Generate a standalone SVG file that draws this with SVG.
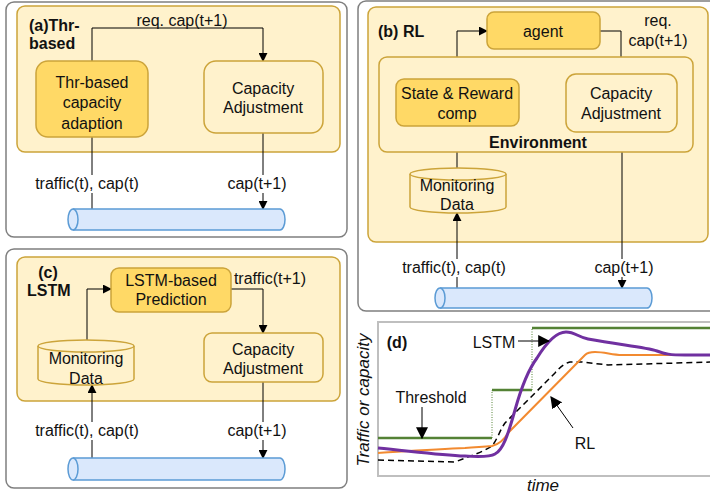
<svg xmlns="http://www.w3.org/2000/svg" width="710" height="493" viewBox="0 0 710 493">
<defs>
<marker id="ah" viewBox="0 0 10 10" refX="9" refY="5" markerWidth="9" markerHeight="9" markerUnits="userSpaceOnUse" orient="auto"><path d="M0,0 L10,5 L0,10 Z" fill="#000"/></marker>
<marker id="ah2" viewBox="0 0 10 10" refX="9" refY="5" markerWidth="12" markerHeight="12" markerUnits="userSpaceOnUse" orient="auto"><path d="M0,0 L10,5 L0,10 Z" fill="#000"/></marker>
<style>
text{font-family:"Liberation Sans",Arial,sans-serif;font-size:16px;fill:#111}
.c{text-anchor:middle}
.b{font-weight:bold}
.panel{fill:#fff;stroke:#7f7f7f;stroke-width:1.5}
.light{fill:#FFF2CC;stroke:#CCA43A;stroke-width:1.5}
.dark{fill:#FFD966;stroke:#CCA43A;stroke-width:1.5}
.pipe{fill:#DAE8FC;stroke:#5B9BD5;stroke-width:1.5}
.ln{fill:none;stroke:#000;stroke-width:1}
.arr{fill:none;stroke:#000;stroke-width:1;marker-end:url(#ah)}
.bg{fill:#fff}
</style>
</defs>

<!-- panels -->
<rect class="panel" x="6" y="2" width="341" height="235" rx="8"/>
<rect class="panel" x="358" y="1" width="362" height="310" rx="8"/>
<rect class="panel" x="6" y="249" width="341" height="239" rx="8"/>

<rect class="light" x="17" y="6" width="323" height="146" rx="8"/>
<rect class="light" x="368" y="7" width="340" height="235" rx="8"/>
<rect class="light" x="17" y="257" width="323" height="144" rx="8"/>

<!-- connectors -->
<g id="connectors">
  <!-- (a) -->
  <path class="arr" d="M92,61 V28 H263 V61"/>
  <path class="ln" d="M92,137 V209"/>
  <path class="arr" d="M263,133 V209"/>
  <!-- (b) -->
  <path class="arr" d="M457,79 V31 H487"/>
  <path class="arr" d="M600,31 H621 V74"/>
  <path class="arr" d="M457,168 V126"/>
  <path class="arr" d="M457,288 V213"/>
  <path class="arr" d="M622,132 V288"/>
  <!-- (c) -->
  <path class="arr" d="M87,340 V289 H111"/>
  <path class="arr" d="M231,289 H263 V333"/>
  <path class="arr" d="M92,458 V385"/>
  <path class="arr" d="M263,382 V458"/>
</g>

<!-- panel (a) -->
<g id="panel-a">
  <text class="b" x="29" y="31">(a)Thr-</text>
  <text class="b" x="29" y="49">based</text>
  <text class="c" x="182" y="26">req. cap(t+1)</text>
  <g id="thr-node">
    <rect class="dark" x="36" y="61" width="112" height="76" rx="12"/>
    <text class="c" x="92" y="88">Thr-based</text>
    <text class="c" x="92" y="108">capacity</text>
    <text class="c" x="92" y="129">adaption</text>
  </g>
  <g id="cap-a">
    <rect class="light" x="204" y="61" width="119" height="72" rx="12"/>
    <text class="c" x="263" y="94">Capacity</text>
    <text class="c" x="263" y="113">Adjustment</text>
  </g>
  <rect class="bg" x="34" y="175" width="106" height="18"/>
  <text class="c" x="87" y="189">traffic(t), cap(t)</text>
  <rect class="bg" x="227" y="175" width="60" height="18"/>
  <text class="c" x="257" y="189">cap(t+1)</text>
  <g id="pipe-a">
    <path class="pipe" d="M73,209 H280 A5,10.5 0 0 1 280,230 H73 A5,10.5 0 0 1 73,209 Z"/>
    <path class="pipe" d="M73,209 A5,10.5 0 0 1 73,230" fill="none"/>
  </g>
</g>

<!-- panel (b) -->
<g id="panel-b">
  <text class="b" x="378" y="37">(b) RL</text>
  <g id="agent">
    <rect class="dark" x="487" y="12" width="113" height="37" rx="7"/>
    <text class="c" x="543" y="37">agent</text>
  </g>
  <text class="c" x="658" y="26">req.</text>
  <text class="c" x="658" y="46">cap(t+1)</text>
  <g id="environment">
    <rect class="light" x="379" y="57" width="314" height="95" rx="8"/>
    <text class="c b" x="538" y="148">Environment</text>
  </g>
  <g id="state-reward">
    <rect class="dark" x="396" y="79" width="123" height="47" rx="8"/>
    <text class="c" x="457" y="99">State &amp; Reward</text>
    <text class="c" x="457" y="119">comp</text>
  </g>
  <g id="cap-b">
    <rect class="light" x="566" y="74" width="111" height="58" rx="10"/>
    <text class="c" x="621" y="99">Capacity</text>
    <text class="c" x="621" y="119">Adjustment</text>
  </g>
  <g id="monitor-b">
    <path class="light" d="M410,174 A48,6 0 0 1 506,174 V207 A48,6 0 0 1 410,207 Z"/>
    <path class="light" d="M410,174 A48,6 0 0 0 506,174" fill="none"/>
    <text class="c" x="457" y="191">Monitoring</text>
    <text class="c" x="457" y="210">Data</text>
  </g>
  <rect class="bg" x="402" y="259" width="106" height="18"/>
  <text class="c" x="454" y="273">traffic(t), cap(t)</text>
  <rect class="bg" x="594" y="259" width="60" height="18"/>
  <text class="c" x="624" y="273">cap(t+1)</text>
  <g id="pipe-b">
    <path class="pipe" d="M440,288 H647 A5,10 0 0 1 647,308 H440 A5,10 0 0 1 440,288 Z"/>
    <path class="pipe" d="M440,288 A5,10 0 0 1 440,308" fill="none"/>
  </g>
</g>

<!-- panel (c) -->
<g id="panel-c">
  <text class="c b" x="48" y="278">(c)</text>
  <text class="b" x="27" y="296">LSTM</text>
  <g id="lstm">
    <rect class="dark" x="111" y="268" width="120" height="44" rx="8"/>
    <text class="c" x="171" y="286">LSTM-based</text>
    <text class="c" x="171" y="305">Prediction</text>
  </g>
  <text class="c" x="270" y="284">traffic(t+1)</text>
  <g id="cap-c">
    <rect class="light" x="204" y="333" width="119" height="49" rx="8"/>
    <text class="c" x="263" y="355">Capacity</text>
    <text class="c" x="263" y="374">Adjustment</text>
  </g>
  <g id="monitor-c">
    <path class="light" d="M38,346 A48,6 0 0 1 134,346 V379 A48,6 0 0 1 38,379 Z"/>
    <path class="light" d="M38,346 A48,6 0 0 0 134,346" fill="none"/>
    <text class="c" x="86" y="364">Monitoring</text>
    <text class="c" x="86" y="384">Data</text>
  </g>
  <rect class="bg" x="34" y="422" width="106" height="18"/>
  <text class="c" x="87" y="436">traffic(t), cap(t)</text>
  <rect class="bg" x="227" y="422" width="60" height="18"/>
  <text class="c" x="257" y="436">cap(t+1)</text>
  <g id="pipe-c">
    <path class="pipe" d="M73,458 H280 A5,11 0 0 1 280,480 H73 A5,11 0 0 1 73,458 Z"/>
    <path class="pipe" d="M73,458 A5,11 0 0 1 73,480" fill="none"/>
  </g>
</g>

<!-- panel (d) -->
<g id="panel-d">
  <rect x="378" y="322" width="340" height="154" fill="#fff" stroke="#BFBFBF" stroke-width="2"/>
  <text class="b" x="397" y="348" text-anchor="middle">(d)</text>
  <text class="c" transform="translate(369,400) rotate(-90)" font-style="italic" style="font-size:17px">Traffic or capacity</text>
  <text class="c" x="543" y="491" font-style="italic" style="font-size:17px">time</text>
  <!-- threshold steps -->
  <path d="M378,438 H492 M492,390 H532 M532,328 H712" fill="none" stroke="#548235" stroke-width="2.5"/>
  <path d="M492,438 V390 M532,390 V328" fill="none" stroke="#548235" stroke-width="1" stroke-dasharray="1,1.5"/>
  <!-- dashed traffic -->
  <path d="M378,460 L455,462 C470,456 483,452 492,446 C497,440 500,430 505,423 L555,373 C560,367 565,363 570,362 L582,362 L608,365 L712,362" fill="none" stroke="#000" stroke-width="1.5" stroke-dasharray="6,4"/>
  <!-- orange RL -->
  <path d="M378,453 C410,451 440,449 465,448 C475,447 480,447 492,446 C500,444 504,440 508,433 L585,355 C588,352 591,352 595,352 C605,352 612,355 622,355 L712,355" fill="none" stroke="#F28A30" stroke-width="2"/>
  <!-- purple LSTM -->
  <path d="M378,448 C410,451 440,455 465,456 C480,457 490,457 495,454 C503,450 508,435 515,410 C522,385 528,370 537,358 C545,345 555,332 566,332 C575,332 578,337 588,339 C620,345 645,347 657,351 C665,354 670,355 685,355 L712,355" fill="none" stroke="#7030A0" stroke-width="3"/>
  <!-- callouts -->
  <text class="c" x="494" y="348">LSTM</text>
  <path d="M518,341 H549" fill="none" stroke="#000" stroke-width="1" marker-end="url(#ah2)"/>
  <text class="c" x="431" y="403">Threshold</text>
  <path d="M422,407 V438" fill="none" stroke="#000" stroke-width="1" marker-end="url(#ah2)"/>
  <text class="c" x="585" y="449">RL</text>
  <path d="M573,428 L551,397" fill="none" stroke="#000" stroke-width="1" marker-end="url(#ah2)"/>
</g>
</svg>
